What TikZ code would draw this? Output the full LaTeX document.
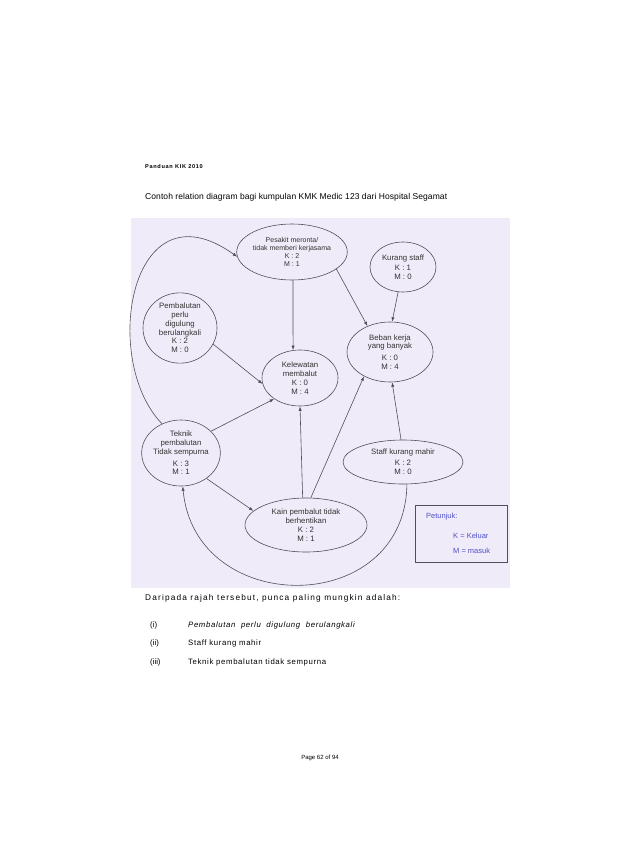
\documentclass[tikz,border=0pt]{standalone}
\usepackage{fontspec}
\setmainfont{Liberation Sans}
\usetikzlibrary{shapes.geometric,arrows.meta}

\definecolor{scanbg}{RGB}{239,235,248}
\definecolor{scanline}{RGB}{80,80,90}
\definecolor{hintblue}{RGB}{80,80,200}

\tikzset{
  cause/.style={ellipse, draw=scanline, line width=0.6pt, inner sep=0pt, align=center,
    text=black!80, font=\fontsize{7.8}{8.8}\selectfont},
  link/.style={draw=scanline, line width=0.6pt, -{Latex[length=4.5pt,width=3.2pt]}},
  pagetext/.style={anchor=west, inner sep=0pt, font=\fontsize{8.5}{9.6}\selectfont},
  hinttext/.style={anchor=west, inner sep=0pt, text=hintblue, font=\fontsize{7.5}{9}\selectfont},
}

\begin{document}
\begin{tikzpicture}[x=1pt,y=-1pt]
\useasboundingbox (0,0) rectangle (638,864);
\fill[white] (0,0) rectangle (638,864);

\node[pagetext, font=\bfseries\fontsize{5.6}{6.6}\selectfont\addfontfeature{LetterSpace=12}] (head) at (145,166) {Panduan KIK 2010};
\node[pagetext, font=\fontsize{8.5}{9.6}\selectfont\addfontfeature{LetterSpace=1}] (title) at (145,197) {Contoh relation diagram bagi kumpulan KMK Medic 123 dari Hospital Segamat};

\fill[scanbg] (131,218) rectangle (510,588);

\node[cause, minimum width=100pt, minimum height=56pt, font=\fontsize{7}{8}\selectfont] (pesakit) at (292,252)
  {Pesakit meronta/\\tidak memberi kerjasama\\K : 2\\M : 1};
\node[cause, minimum width=66pt, minimum height=50pt] (kurang) at (403,267)
  {Kurang staff\\[1pt]K : 1\\M : 0};
\node[cause, minimum width=74pt, minimum height=68pt] (pembalutan) at (180,328)
  {Pembalutan\\perlu\\digulung\\berulangkali\\K : 2\\M : 0};
\node[cause, minimum width=76pt, minimum height=56pt] (kelewatan) at (300,378)
  {Kelewatan\\membalut\\K : 0\\M : 4};
\node[cause, minimum width=86pt, minimum height=60pt] (beban) at (390,352)
  {Beban kerja\\yang banyak\\[3pt]K : 0\\M : 4};
\node[cause, minimum width=72pt, minimum height=66pt] (teknik) at (181,453)
  {Teknik\\pembalutan\\Tidak sempurna\\[3pt]K : 3\\M : 1};
\node[cause, minimum width=122pt, minimum height=54pt] (kain) at (306,525)
  {Kain pembalut tidak\\berhentikan\\K : 2\\M : 1};
\node[cause, minimum width=120pt, minimum height=44pt] (staff) at (403,462)
  {Staff kurang mahir\\[2pt]K : 2\\M : 0};

\draw[link] (pesakit.-88) -- (kelewatan.104);
\draw[link] (pesakit.-21) -- (beban.131);
\draw[link] (kurang.-101) -- (beban.86);
\draw[link] (pembalutan.-26) -- (kelewatan.189);
\draw[link] (teknik.36) -- (kelewatan.219);
\draw[link] (teknik.-45) -- (kain.165);
\draw[link] (kain.97) -- (kelewatan.-90);
\draw[link] (kain.80) -- (beban.223);
\draw[link] (staff.95) -- (beban.-86);
\draw[link] (teknik.123) .. controls (100,360) and (130,180) .. (pesakit.185);
\draw[link] (staff.-80) .. controls (405,618) and (195,618) .. (teknik.-87);

\draw[scanline, line width=0.6pt] (415,505) rectangle (507,562);
\node[hinttext] (hint) at (426,517) {Petunjuk:};
\node[hinttext] (keluar) at (453,536) {K = Keluar};
\node[hinttext] (masuk) at (453,551) {M = masuk};

\node[pagetext, font=\fontsize{8.3}{9.6}\selectfont\addfontfeature{LetterSpace=14}] (punca) at (145,598) {Daripada rajah tersebut, punca paling mungkin adalah:};
\foreach \n/\y/\t in {i/625/{\itshape Pembalutan\ \ perlu\ \ digulung\ \ berulangkali},
                     ii/643/{Staff kurang mahir},
                     iii/662/{Teknik pembalutan tidak sempurna}} {
  \node[pagetext, font=\fontsize{7.8}{9}\selectfont] (num\n) at (150,\y) {(\n)};
  \node[pagetext, font=\fontsize{7.8}{9}\selectfont\addfontfeature{LetterSpace=8}] (item\n) at (188,\y) {\t};
}
\node[inner sep=0pt, font=\fontsize{6}{7}\selectfont] (pageno) at (320,758) {Page 62 of 94};
\end{tikzpicture}
\end{document}
